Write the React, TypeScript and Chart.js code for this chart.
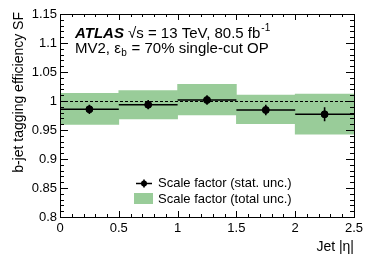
import React, { useEffect, useRef } from "react";
import { Chart, registerables } from "chart.js";

Chart.register(...registerables);

const binEdges = [0, 0.5, 1, 1.5, 2, 2.5];
const sfValues = [0.9857, 0.9936, 1.0017, 0.9845, 0.9771];
const statErr = [0.008, 0.008, 0.008, 0.009, 0.012];
const totalLow = [0.9598, 0.969, 0.9759, 0.9609, 0.9426];
const totalHigh = [1.0133, 1.0178, 1.0288, 1.0103, 1.0121];
const yTickLabels = ["0.8", "0.85", "0.9", "0.95", "1", "1.05", "1.1", "1.15"];
const xTickLabels = ["0", "0.5", "1", "1.5", "2", "2.5"];
const legendLabels = ["Scale factor (stat. unc.)", "Scale factor (total unc.)"];

const FONT = "'Liberation Sans', Arial, Helvetica, sans-serif";
const BAND = "#99cc99";

export default function App() {
  const ref = useRef<HTMLCanvasElement | null>(null);
  useEffect(() => {
    if (!ref.current) return;
    const centers = binEdges.slice(0, -1).map((e, i) => (e + binEdges[i + 1]) / 2);

    const overlay = {
      id: "atlasOverlay",
      afterDatasetDraw(chart: any, args: any) {
        if (args.index !== 0) return;
        const { ctx, scales } = chart;
        const xs = scales.x, ys = scales.y;
        ctx.save();
        ctx.strokeStyle = "#000";
        ctx.lineWidth = 1;
        ctx.setLineDash([3, 2]);
        ctx.beginPath();
        const y1 = Math.round(ys.getPixelForValue(1)) + 0.5;
        ctx.moveTo(xs.getPixelForValue(binEdges[0]), y1);
        ctx.lineTo(xs.getPixelForValue(binEdges[binEdges.length - 1]), y1);
        ctx.stroke();
        ctx.setLineDash([]);
        ctx.lineWidth = 1.6;
        sfValues.forEach((v, i) => {
          const py = ys.getPixelForValue(v);
          const px = xs.getPixelForValue(centers[i]);
          ctx.beginPath();
          ctx.moveTo(xs.getPixelForValue(binEdges[i]), py);
          ctx.lineTo(xs.getPixelForValue(binEdges[i + 1]), py);
          ctx.moveTo(px, ys.getPixelForValue(v - statErr[i]));
          ctx.lineTo(px, ys.getPixelForValue(v + statErr[i]));
          ctx.stroke();
        });
        ctx.restore();
      },
      afterDraw(chart: any) {
        const { ctx, scales, chartArea: ca } = chart;
        const xs = scales.x, ys = scales.y;
        ctx.save();
        ctx.strokeStyle = "#000";
        ctx.fillStyle = "#000";
        ctx.lineWidth = 1;
        ctx.strokeRect(Math.round(ca.left) + 0.5, Math.round(ca.top) + 0.5, Math.round(ca.right - ca.left), Math.round(ca.bottom - ca.top));
        const yMin = 0.8, yMax = 1.15;
        ctx.beginPath();
        for (let k = 0; k <= 35; k++) {
          const v = yMin + k * 0.01;
          if (v > yMax + 1e-9) break;
          const py = Math.round(ys.getPixelForValue(v)) + 0.5;
          const len = k % 5 === 0 ? 8 : 4;
          ctx.moveTo(ca.left, py); ctx.lineTo(ca.left + len, py);
          ctx.moveTo(ca.right, py); ctx.lineTo(ca.right - len, py);
        }
        for (let k = 0; k <= 25; k++) {
          const v = k * 0.1;
          const px = Math.round(xs.getPixelForValue(v)) + 0.5;
          const len = k % 5 === 0 ? 6 : 3;
          ctx.moveTo(px, ca.bottom); ctx.lineTo(px, ca.bottom - len);
          ctx.moveTo(px, ca.top); ctx.lineTo(px, ca.top + len);
        }
        ctx.stroke();
        ctx.font = `13px ${FONT}`;
        ctx.textAlign = "right";
        ctx.textBaseline = "middle";
        yTickLabels.forEach((t) => {
          ctx.fillText(t, ca.left - 3, ys.getPixelForValue(parseFloat(t)));
        });
        ctx.textAlign = "center";
        ctx.textBaseline = "alphabetic";
        xTickLabels.forEach((t) => {
          ctx.fillText(t, xs.getPixelForValue(parseFloat(t)), 232);
        });
        ctx.font = `14px ${FONT}`;
        ctx.textAlign = "right";
        ctx.fillText("Jet |η|", ca.right, 251);
        ctx.save();
        ctx.translate(23, 12);
        ctx.rotate(-Math.PI / 2);
        ctx.textAlign = "right";
        ctx.textBaseline = "alphabetic";
        ctx.fillText("b-jet tagging efficiency SF", 0, 0);
        ctx.restore();
        ctx.textAlign = "left";
        ctx.textBaseline = "alphabetic";
        ctx.font = `italic bold 15px ${FONT}`;
        ctx.fillText("ATLAS", 75, 37.5);
        ctx.font = `15px ${FONT}`;
        const s1 = "√s = 13 TeV, 80.5 fb";
        ctx.fillText(s1, 128, 37.5);
        const w1 = ctx.measureText(s1).width;
        ctx.font = `10px ${FONT}`;
        ctx.fillText("-1", 128 + w1 + 1, 31);
        ctx.font = `15px ${FONT}`;
        const s2a = "MV2, ε";
        ctx.fillText(s2a, 75, 52.5);
        const w2a = ctx.measureText(s2a).width;
        ctx.font = `10px ${FONT}`;
        ctx.fillText("b", 75 + w2a + 0.5, 56);
        const wb = ctx.measureText("b").width;
        ctx.font = `15px ${FONT}`;
        ctx.fillText(" = 70% single-cut OP", 75 + w2a + wb + 1, 52.5);
        ctx.lineWidth = 1.6;
        ctx.beginPath();
        ctx.moveTo(136, 183.5); ctx.lineTo(152, 183.5);
        ctx.moveTo(144, 179.5); ctx.lineTo(144, 187.5);
        ctx.stroke();
        ctx.beginPath();
        ctx.arc(144, 183.5, 3, 0, Math.PI * 2);
        ctx.fill();
        ctx.fillStyle = BAND;
        ctx.fillRect(134, 193, 19, 11);
        ctx.fillStyle = "#000";
        ctx.font = `13px ${FONT}`;
        ctx.textBaseline = "middle";
        ctx.fillText(legendLabels[0], 158, 183.5);
        ctx.fillText(legendLabels[1], 158, 199);
        ctx.restore();
      },
    };

    const chart = new Chart(ref.current, {
      type: "bar",
      data: {
        datasets: [
          {
            type: "bar",
            label: legendLabels[1],
            data: centers.map((c, i) => ({ x: c, y: [totalLow[i], totalHigh[i]] })) as any,
            backgroundColor: BAND,
            borderWidth: 0,
            barPercentage: 1,
            categoryPercentage: 1,
            grouped: false,
            order: 2,
          } as any,
          {
            type: "scatter",
            label: legendLabels[0],
            data: centers.map((c, i) => ({ x: c, y: sfValues[i] })),
            backgroundColor: "#000",
            borderColor: "#000",
            pointRadius: 3.5,
            showLine: false,
            order: 1,
          } as any,
        ],
      },
      options: {
        animation: false,
        responsive: false,
        layout: { padding: { left: 60, top: 14, right: 20, bottom: 42 } },
        plugins: { legend: { display: false }, tooltip: { enabled: false } },
        scales: {
          x: { type: "linear", min: 0, max: 2.5, offset: false, display: false, ticks: { stepSize: 0.5 } },
          y: { type: "linear", min: 0.8, max: 1.15, display: false },
        },
      },
      plugins: [overlay],
    });
    return () => chart.destroy();
  }, []);

  return (
    <div style={{ position: "absolute", left: 0, top: 0, width: 374, height: 259, background: "#fff" }}>
      <canvas ref={ref} width={374} height={259} style={{ width: 374, height: 259 }} />
    </div>
  );
}
